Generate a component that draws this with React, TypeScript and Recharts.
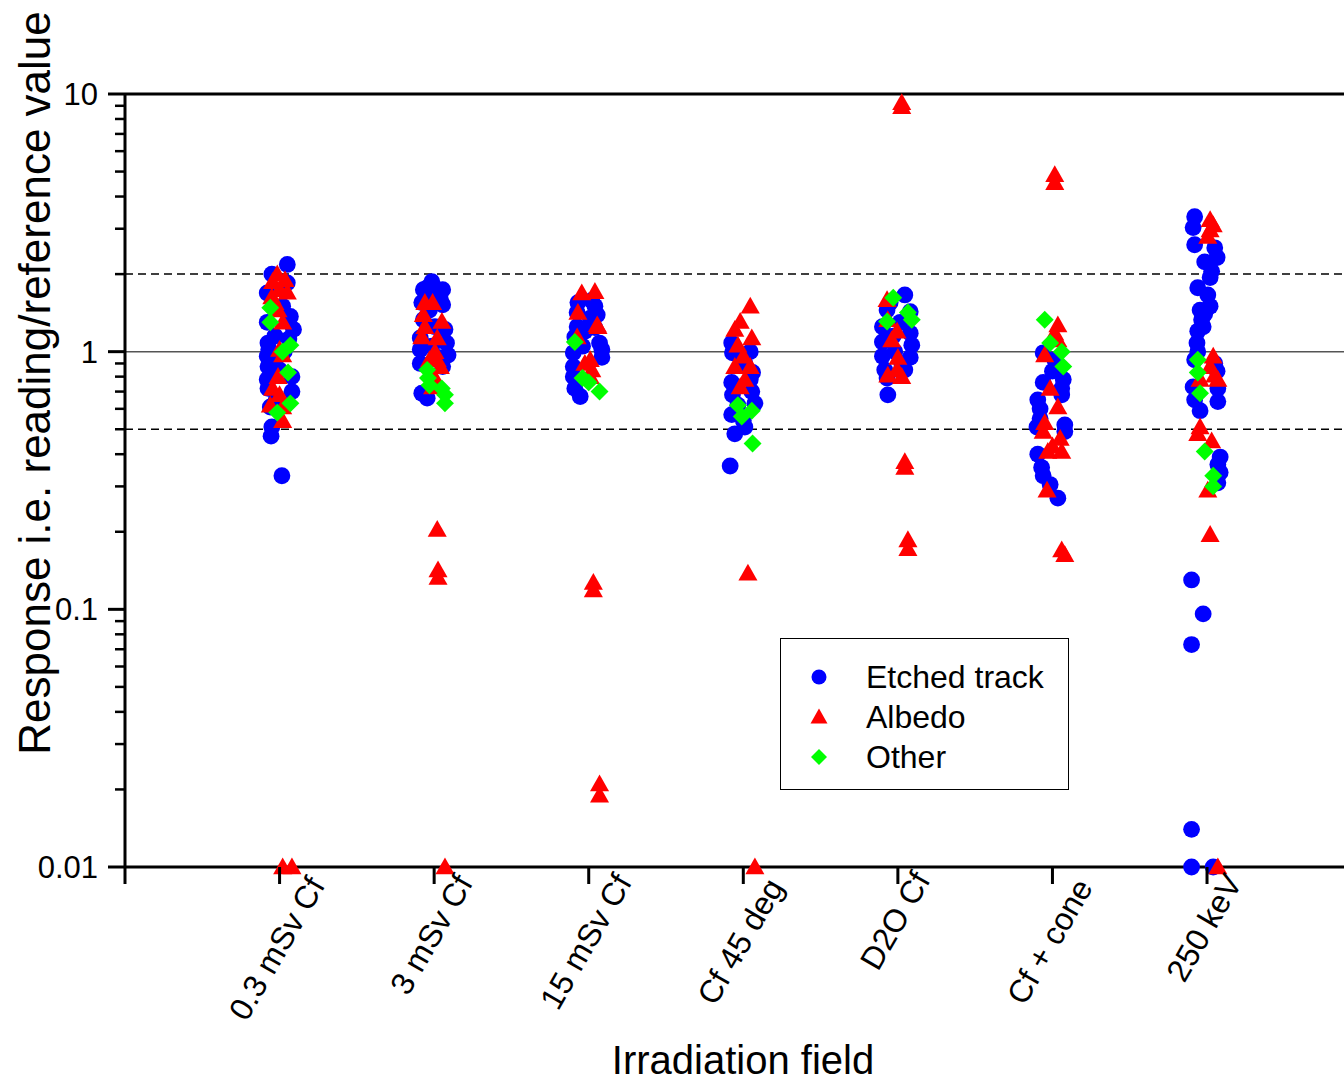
import React from 'react';
import { ScatterChart, Scatter, XAxis, YAxis, ReferenceLine, Legend } from 'recharts';

const FONT = '"Liberation Sans", Arial, sans-serif';

const fields = ['0.3 mSv Cf', '3 mSv Cf', '15 mSv Cf', 'Cf 45 deg', 'D2O Cf', 'Cf + cone', '250 keV'];
const xTicks = [0, 1, 2, 3, 4, 5, 6, 7, 8];
const yMajor = [0.01, 0.1, 1, 10];
const yMinor = [
  0.02, 0.03, 0.04, 0.05, 0.06, 0.07, 0.08, 0.09,
  0.2, 0.3, 0.4, 0.5, 0.6, 0.7, 0.8, 0.9,
  2, 3, 4, 5, 6, 7, 8, 9,
];

// [field position (1..7 with jitter), response]
const etchedTrack: [number, number][] = [
  // 0.3 mSv Cf
  [1.05, 2.18], [0.95, 2.0], [1.05, 1.85], [0.92, 1.69], [1.07, 1.37], [1.09, 1.22], [0.92, 1.3], [0.925, 1.08],
  [0.92, 0.96], [0.925, 0.875], [1.08, 0.8], [0.92, 0.78], [0.925, 0.72], [1.08, 0.7], [0.94, 0.61], [0.95, 0.51],
  [0.945, 0.47], [1.015, 0.33], [0.97, 1.15], [1.03, 1.0], [0.95, 0.92], [1.0, 0.85], [1.06, 1.12], [0.93, 1.02],
  [0.98, 0.66], [1.02, 1.5],
  // 3 mSv Cf
  [1.985, 1.87], [1.93, 1.74], [2.055, 1.74], [1.92, 1.55], [2.055, 1.52], [1.93, 1.33], [2.07, 1.22], [1.91, 1.13],
  [2.08, 1.08], [1.91, 1.02], [2.09, 0.97], [1.91, 0.9], [2.055, 0.875], [1.92, 0.69], [1.955, 0.66], [1.985, 1.65],
  [1.97, 1.45], [2.005, 1.25], [1.985, 1.05], [2.025, 0.95], [1.96, 1.78], [2.04, 1.6],
  // 15 mSv Cf
  [2.93, 1.55], [3.04, 1.5], [2.925, 1.42], [3.055, 1.39], [2.925, 1.25], [3.04, 1.24], [2.91, 1.14], [3.07, 1.08],
  [2.9, 0.99], [3.085, 1.02], [3.085, 0.95], [2.9, 0.875], [2.9, 0.8], [2.91, 0.72], [2.945, 0.67], [2.975, 1.2],
  [3.01, 1.35], [2.96, 1.05], [3.02, 1.58],
  // Cf 45 deg
  [3.925, 1.08], [3.93, 0.99], [4.045, 1.0], [4.06, 0.83], [3.925, 0.76], [4.045, 0.78], [3.93, 0.68], [4.075, 0.63],
  [3.925, 0.57], [4.0, 0.54], [3.945, 0.48], [4.01, 0.51], [3.915, 0.36], [4.01, 0.9], [3.965, 0.62], [4.055, 0.7],
  // D2O Cf
  [5.045, 1.66], [4.93, 1.45], [5.08, 1.43], [4.9, 1.25], [5.08, 1.18], [4.9, 1.09], [5.09, 1.06], [4.9, 0.96],
  [5.08, 0.95], [4.915, 0.85], [5.045, 0.85], [4.93, 0.79], [4.935, 0.68], [4.98, 1.0], [5.015, 1.3], [4.97, 1.15],
  [5.025, 0.9], [4.95, 1.55],
  // Cf + cone
  [5.94, 0.99], [6.015, 0.93], [6.0, 0.84], [5.94, 0.76], [6.07, 0.78], [6.06, 0.68], [5.905, 0.65], [5.92, 0.6],
  [5.92, 0.55], [6.08, 0.52], [5.9, 0.51], [6.08, 0.49], [5.905, 0.4], [5.93, 0.355], [5.94, 0.33], [5.985, 0.305],
  [6.035, 0.27], [6.035, 0.88], [6.06, 0.72],
  // 250 keV
  [6.92, 3.34], [6.91, 3.03], [6.92, 2.6], [7.05, 2.53], [7.065, 2.32], [6.985, 2.23], [7.02, 1.94], [6.94, 1.77],
  [7.005, 1.66], [6.955, 1.45], [7.02, 1.5], [6.965, 1.33], [6.94, 1.2], [6.975, 1.25], [6.935, 1.08], [6.92, 0.93],
  [7.065, 0.84], [6.91, 0.73], [7.07, 0.72], [6.92, 0.65], [7.07, 0.64], [6.955, 0.59], [7.085, 0.39], [7.07, 0.365],
  [7.085, 0.34], [7.07, 0.31], [6.9, 0.13], [6.975, 0.096], [6.9, 0.073], [6.9, 0.014], [6.9, 0.01], [7.04, 0.01],
  [6.94, 1.0], [6.985, 1.4], [7.03, 2.05], [7.05, 0.9],
];

const albedo: [number, number][] = [
  // 0.3 mSv Cf
  [0.985, 2.0], [0.955, 1.87], [1.0, 1.74], [1.05, 1.7], [0.95, 1.63], [0.99, 1.45], [1.02, 1.3], [1.0, 1.02],
  [1.02, 0.97], [0.99, 0.8], [0.955, 0.72], [1.0, 0.68], [0.94, 0.62], [1.02, 0.61], [1.02, 0.54], [1.02, 0.01],
  [1.08, 0.01], [1.035, 1.9], [0.97, 1.55],
  // 3 mSv Cf
  [1.94, 1.55], [1.99, 1.55], [1.93, 1.39], [2.05, 1.31], [1.94, 1.25], [1.92, 1.14], [2.02, 1.13], [2.005, 1.0],
  [1.97, 0.93], [2.02, 0.93], [2.04, 0.875], [2.005, 0.79], [1.99, 0.73], [2.02, 0.204], [2.025, 0.142], [2.025, 0.133],
  [2.07, 0.01],
  // 15 mSv Cf
  [2.955, 1.69], [3.04, 1.71], [2.93, 1.42], [3.055, 1.27], [2.925, 1.14], [3.01, 0.93], [2.975, 0.9], [3.02, 0.85],
  [3.01, 0.8], [3.06, 1.25], [3.03, 0.127], [3.03, 0.119], [3.07, 0.021], [3.07, 0.019],
  // Cf 45 deg
  [4.045, 1.5], [3.98, 1.31], [3.945, 1.22], [4.055, 1.13], [3.965, 1.06], [4.0, 0.96], [3.945, 0.875], [4.045, 0.875],
  [4.01, 0.78], [3.98, 0.73], [4.03, 0.138], [4.075, 0.01],
  // D2O Cf
  [4.93, 1.59], [4.935, 1.33], [4.995, 1.2], [4.96, 1.11], [5.0, 0.95], [4.995, 0.85], [4.935, 0.81], [5.025, 0.8],
  [5.025, 9.25], [5.025, 8.93], [5.045, 0.374], [5.045, 0.355], [5.065, 0.186], [5.065, 0.172],
  // Cf + cone
  [6.035, 1.27], [6.015, 1.18], [6.035, 1.11], [5.95, 0.97], [5.985, 0.72], [6.035, 0.61], [5.95, 0.53], [5.94, 0.49],
  [6.05, 0.46], [6.0, 0.43], [6.06, 0.41], [5.97, 0.41], [5.965, 0.29], [6.015, 4.86], [6.015, 4.53], [6.06, 0.17],
  [6.08, 0.163],
  // 250 keV
  [7.02, 3.25], [7.02, 2.97], [7.005, 2.8], [7.04, 3.1], [7.04, 0.96], [7.02, 0.875], [7.05, 0.81], [6.955, 0.78],
  [7.07, 0.78], [6.955, 0.51], [6.94, 0.48], [7.03, 0.45], [7.005, 0.29], [7.02, 0.195], [7.07, 0.01],
];

const other: [number, number][] = [
  // 0.3 mSv Cf
  [0.94, 1.48], [0.94, 1.3], [1.07, 1.06], [1.055, 0.83], [1.07, 0.63], [0.985, 0.58], [1.02, 1.0],
  // 3 mSv Cf
  [1.955, 0.85], [1.96, 0.79], [2.05, 0.72], [2.07, 0.68], [2.07, 0.63], [1.97, 0.74],
  // 15 mSv Cf
  [2.91, 1.09], [2.96, 0.79], [3.0, 0.76], [3.07, 0.7],
  // Cf 45 deg
  [3.965, 0.62], [4.055, 0.59], [3.99, 0.56], [4.06, 0.44],
  // D2O Cf
  [4.97, 1.62], [5.065, 1.42], [5.09, 1.33], [4.93, 1.31],
  // Cf + cone
  [5.95, 1.33], [5.985, 1.08], [6.06, 1.0], [6.07, 0.875],
  // 250 keV
  [6.94, 0.93], [6.94, 0.83], [6.955, 0.69], [6.985, 0.41], [7.04, 0.33], [7.04, 0.3],
];

type Kind = 'circle' | 'triangle' | 'diamond';

const series: { name: string; data: [number, number][]; color: string; kind: Kind }[] = [
  { name: 'Etched track', data: etchedTrack, color: '#0000ff', kind: 'circle' },
  { name: 'Albedo', data: albedo, color: '#ff0000', kind: 'triangle' },
  { name: 'Other', data: other, color: '#00ff00', kind: 'diamond' },
];

const toPoints = (arr: [number, number][]) => arr.map(([x, y]) => ({ x, y }));

const Marker = ({ kind, cx, cy, color, s = 1 }: { kind: Kind; cx: number; cy: number; color: string; s?: number }) => {
  if (kind === 'circle') return <circle cx={cx} cy={cy} r={7.5 * s} fill={color} />;
  if (kind === 'triangle')
    return (
      <path
        d={`M${cx},${cy - 8.5 * s} L${cx + 8.5 * s},${cy + 6.5 * s} L${cx - 8.5 * s},${cy + 6.5 * s} Z`}
        fill={color}
      />
    );
  return (
    <path d={`M${cx},${cy - 8 * s} L${cx + 8 * s},${cy} L${cx},${cy + 8 * s} L${cx - 8 * s},${cy} Z`} fill={color} />
  );
};

const YTick = (props: any) => {
  const { x, y, payload } = props;
  const v = payload.value;
  const major = yMajor.includes(v);
  return (
    <g>
      <line x1={x} x2={x - (major ? 17 : 10)} y1={y} y2={y} stroke="#000" strokeWidth={major ? 3 : 2.5} />
      {major && (
        <text x={x - 27} y={y} dy="0.35em" textAnchor="end" fontSize={31} fontFamily={FONT} fill="#000">
          {String(v)}
        </text>
      )}
    </g>
  );
};

const XTick = (props: any) => {
  const { x, y, payload } = props;
  const label = fields[payload.value - 1];
  const len = label ? label.length * 16 : 0;
  const h = len * Math.sin(Math.PI / 3) + 12;
  const cy = y + 6 + h / 2;
  return (
    <g>
      <line x1={x} x2={x} y1={y} y2={y + 17} stroke="#000" strokeWidth={3} />
      {label && (
        <text
          x={x - 3}
          y={cy}
          dy="0.35em"
          textAnchor="middle"
          transform={`rotate(-60, ${x - 3}, ${cy})`}
          fontSize={32}
          fontFamily={FONT}
          fill="#000"
        >
          {label}
        </text>
      )}
    </g>
  );
};

const TopTick = (props: any) => {
  const { x, y } = props;
  return <line x1={x} x2={x} y1={y} y2={y + 17} stroke="#000" strokeWidth={3} />;
};

const RightTick = (props: any) => {
  const { x, y } = props;
  return <line x1={x} x2={x - 17} y1={y} y2={y} stroke="#000" strokeWidth={3} />;
};

const LegendBox = () => (
  <div
    style={{
      width: 289,
      height: 152,
      border: '1.5px solid #000',
      boxSizing: 'border-box',
      background: '#fff',
      position: 'relative',
      fontFamily: FONT,
    }}
  >
    {series.map((s, i) => (
      <div
        key={s.name}
        style={{ position: 'absolute', left: 0, top: 18 + i * 40, height: 40, display: 'flex', alignItems: 'center' }}
      >
        <svg width={85} height={40} style={{ display: 'block' }}>
          <Marker kind={s.kind} cx={38} cy={20} color={s.color} />
        </svg>
        <span style={{ fontSize: 32, lineHeight: '40px', color: '#000', whiteSpace: 'nowrap' }}>{s.name}</span>
      </div>
    ))}
  </div>
);

export default function App() {
  return (
    <div style={{ position: 'absolute', left: 0, top: 0, width: 1344, height: 1086, overflow: 'hidden', background: '#fff' }}>
      <ScatterChart width={1400} height={1086} margin={{ top: 0, right: 8, bottom: 0, left: 0 }}>
        <XAxis
          type="number"
          dataKey="x"
          domain={[0, 8]}
          ticks={xTicks}
          interval={0}
          height={219}
          tickSize={0}
          tickMargin={0}
          tickLine={false}
          axisLine={{ stroke: '#000', strokeWidth: 3 }}
          tick={<XTick />}
          label={{
            content: () => (
              <text x={743} y={1074} textAnchor="middle" fontSize={40} fontFamily={FONT} fill="#000">
                Irradiation field
              </text>
            ),
          }}
        />
        <XAxis
          xAxisId="top"
          orientation="top"
          type="number"
          dataKey="x"
          domain={[0, 8]}
          ticks={[1, 2, 3, 4, 5, 6, 7]}
          interval={0}
          height={94}
          tickSize={0}
          tickMargin={0}
          tickLine={false}
          axisLine={{ stroke: '#000', strokeWidth: 3 }}
          tick={<TopTick />}
        />
        <YAxis
          type="number"
          dataKey="y"
          scale="log"
          domain={[0.01, 10]}
          ticks={[...yMajor, ...yMinor]}
          interval={0}
          width={125}
          tickSize={0}
          tickMargin={0}
          tickLine={false}
          axisLine={{ stroke: '#000', strokeWidth: 3 }}
          tick={<YTick />}
          label={{
            content: () => (
              <text
                x={50}
                y={383}
                transform="rotate(-90, 50, 383)"
                textAnchor="middle"
                fontSize={44}
                fontFamily={FONT}
                fill="#000"
              >
                Response i.e. reading/reference value
              </text>
            ),
          }}
        />
        <YAxis
          yAxisId="right"
          orientation="right"
          type="number"
          scale="log"
          domain={[0.01, 10]}
          allowDataOverflow
          ticks={yMajor}
          interval={0}
          width={30.4}
          tickSize={0}
          tickMargin={0}
          tickLine={false}
          axisLine={{ stroke: '#000', strokeWidth: 3 }}
          tick={<RightTick />}
        />
        {series.map((s) => (
          <Scatter
            key={s.name}
            name={s.name}
            data={toPoints(s.data)}
            fill={s.color}
            isAnimationActive={false}
            shape={(p: any) => <Marker kind={s.kind} cx={p.cx} cy={p.cy} color={s.color} s={1.12} />}
          />
        ))}
        <ReferenceLine y={2} stroke="#000" strokeWidth={1.5} strokeDasharray="8 5" />
        <ReferenceLine y={0.5} stroke="#000" strokeWidth={1.5} strokeDasharray="8 5" />
        <ReferenceLine y={1} stroke="#555" strokeWidth={1.5} />
        <Legend
          layout="vertical"
          align="center"
          verticalAlign="middle"
          wrapperStyle={{ left: 780, top: 638, width: 289, height: 152 }}
          content={() => <LegendBox />}
        />
      </ScatterChart>
    </div>
  );
}
